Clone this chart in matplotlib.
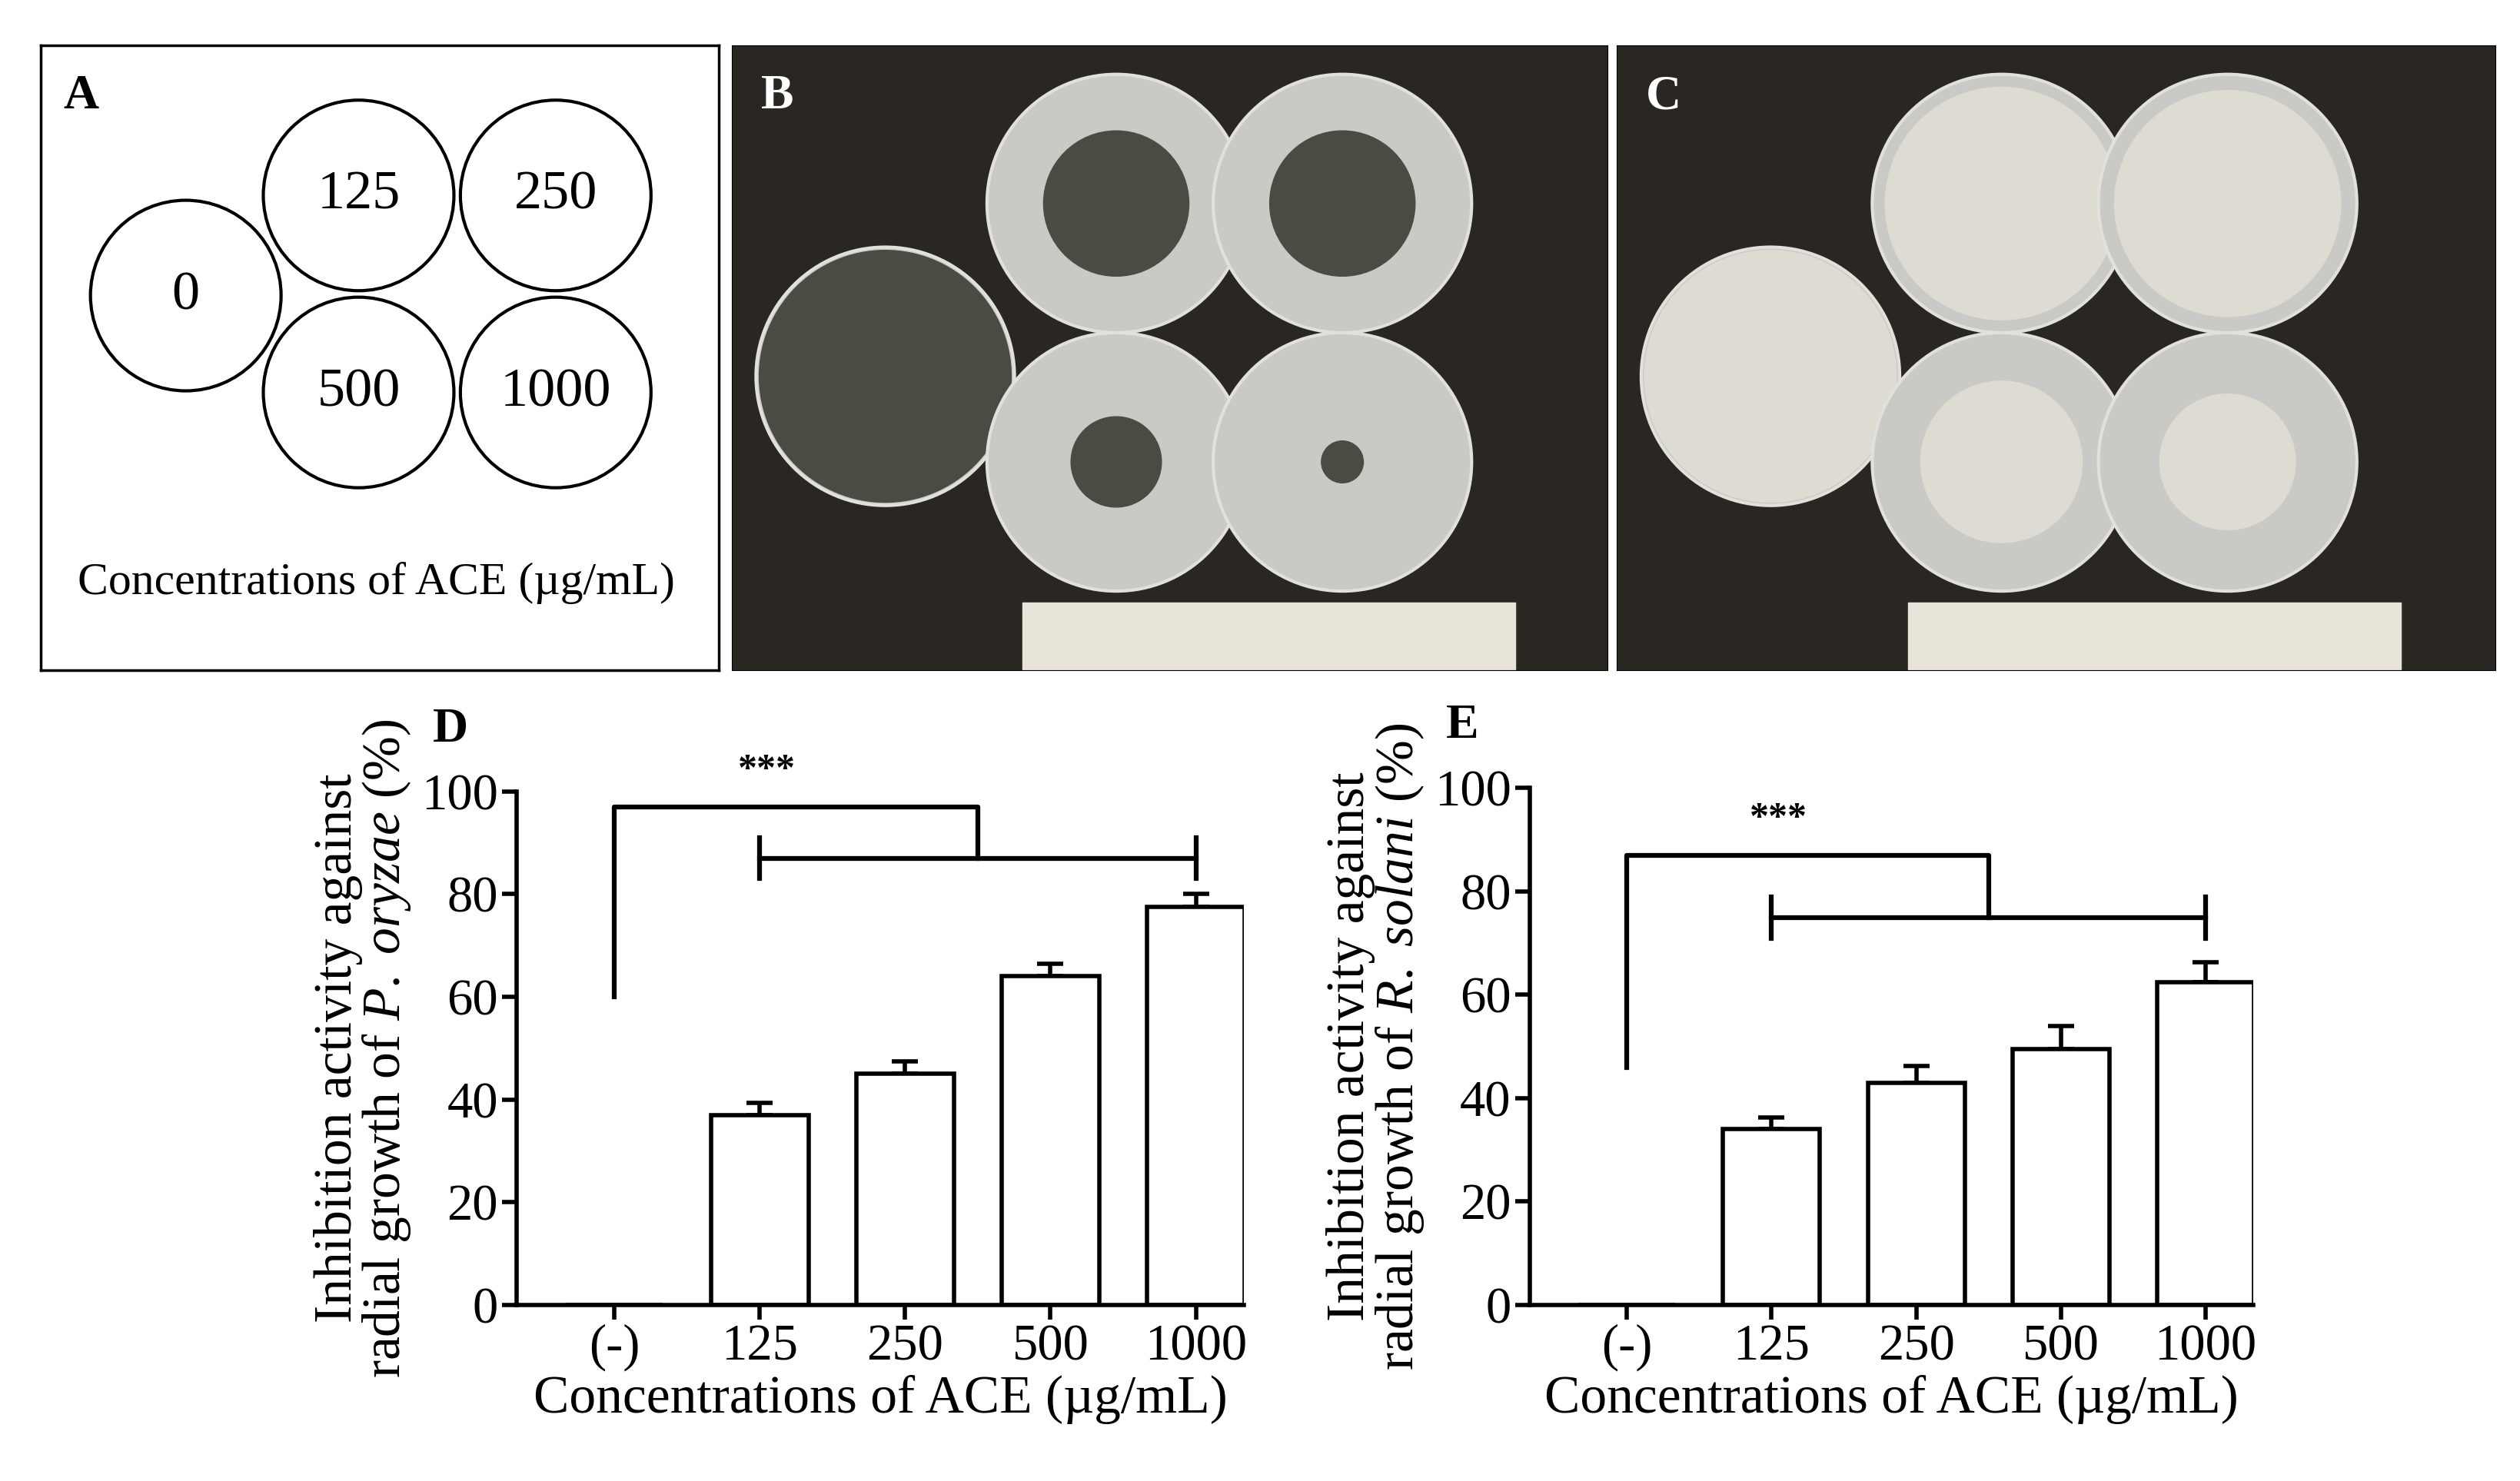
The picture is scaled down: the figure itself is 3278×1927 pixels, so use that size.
import matplotlib
matplotlib.use("Agg")
import matplotlib.pyplot as plt
from matplotlib.patches import Circle, Rectangle

plt.rcParams['font.family'] = ['Liberation Serif', 'DejaVu Serif']
plt.rcParams['mathtext.fontset'] = 'custom'
plt.rcParams['mathtext.it'] = 'Liberation Serif:italic'
plt.rcParams['mathtext.rm'] = 'Liberation Serif'

categories = ['(-)', '125', '250', '500', '1000']
d_vals = [0, 37, 45, 64, 77.5]
d_err = [0, 2.3, 2.5, 2.5, 2.5]
e_vals = [0, 34, 43, 49.5, 62.5]
e_err = [0, 2.3, 3.2, 4.5, 3.8]
conc_labels = ['0', '125', '250', '500', '1000']

fig = plt.figure(figsize=(32.78, 19.27), dpi=100)
W, H = 1560, 917
def ax_px(x0, y0, x1, y1):
    return fig.add_axes([x0 / W, 1 - y1 / H, (x1 - x0) / W, (y1 - y0) / H])

# Panel A
axA = ax_px(25, 28, 445, 415)
axA.set_xlim(0, 420); axA.set_ylim(387, 0); axA.set_xticks([]); axA.set_yticks([])
for s in axA.spines.values(): s.set_linewidth(2.5)
circ = [(90, 155), (197, 93), (319, 93), (197, 215), (319, 215)]
for (cx, cy), lab in zip(circ, conc_labels):
    axA.add_patch(Circle((cx, cy), 59, fill=False, lw=3))
    axA.text(cx, cy, lab, ha='center', va='center', fontsize=52)
axA.text(208, 333, 'Concentrations of ACE (µg/mL)', ha='center', va='center', fontsize=43)
axA.text(14, 32, 'A', fontsize=46, fontweight='bold', va='center')

# Panels B, C (photo placeholders)
def photo(x0, x1, letter, colony_col, sizes):
    ax = ax_px(x0, 28, x1, 415)
    ax.set_xlim(0, x1 - x0); ax.set_ylim(387, 0); ax.set_xticks([]); ax.set_yticks([])
    ax.add_patch(Rectangle((0, 0), x1 - x0, 387, color='#2a2622'))
    ax.add_patch(Rectangle((180, 345), 305, 42, color='#e8e4da'))
    pos = [(95, 205), (238, 98), (378, 98), (238, 258), (378, 258)]
    for (cx, cy), r in zip(pos, sizes):
        ax.add_patch(Circle((cx, cy), 80, color='#c9cac6', ec='#e0e0dc', lw=3))
        ax.add_patch(Circle((cx, cy), r, color=colony_col))
    ax.text(18, 32, letter, fontsize=46, fontweight='bold', color='white', va='center')
photo(453, 995, 'B', '#4a4c44', [78, 45, 45, 28, 13])
photo(1001, 1545, 'C', '#dedcd2', [78, 72, 70, 50, 42])

def bar_panel(x0, x1, y0, y1, vals, errs, letter, ylabel, br):
    ax = ax_px(x0, y0, x1, y1)
    x = range(len(categories))
    ax.bar(x, vals, width=0.67, color='white', edgecolor='black', linewidth=4, zorder=2)
    ax.errorbar(list(x)[1:], vals[1:], yerr=[[0]*4, errs[1:]], fmt='none', ecolor='black',
                elinewidth=4, capsize=12, capthick=4, zorder=1)
    ax.set_xlim(-0.67, 4.33); ax.set_ylim(0, 100)
    ax.set_xticks(list(x)); ax.set_xticklabels(categories)
    ax.set_yticks(range(0, 101, 20))
    ax.tick_params(labelsize=48, width=4, length=14)
    for s in ['top', 'right']: ax.spines[s].set_visible(False)
    for s in ['left', 'bottom']: ax.spines[s].set_linewidth(4)
    ax.set_xlabel('Concentrations of ACE (µg/mL)', fontsize=50, labelpad=4)
    ax.set_ylabel(ylabel, fontsize=50, linespacing=0.95, labelpad=8)
    start, top, low, tick = br
    kw = dict(color='black', lw=4.5, clip_on=False)
    ax.plot([0, 0, 2.5, 2.5], [start, top, top, low], **kw)
    ax.plot([1, 4], [low, low], **kw)
    ax.plot([1, 1], [low - tick, low + tick], **kw)
    ax.plot([4, 4], [low - tick, low + tick], **kw)
    ax.text(1.05, top + 7, '***', ha='center', va='center', fontsize=36, fontweight='bold')
    ax.text(-1.25, 112, letter, fontsize=46, fontweight='bold', va='center', ha='left')
    return ax

bar_panel(320, 770, 490, 808, d_vals, d_err, 'D',
          'Inhibition activity against\nradial growth of $\\it{P.\\ oryzae}$ (%)', (60, 97, 87, 4))
bar_panel(947, 1395, 488, 808, e_vals, e_err, 'E',
          'Inhibition activity against\nradial growth of $\\it{R.\\ solani}$ (%)', (46, 87, 75, 4))

fig.savefig('out.png', dpi=100, facecolor='white')
